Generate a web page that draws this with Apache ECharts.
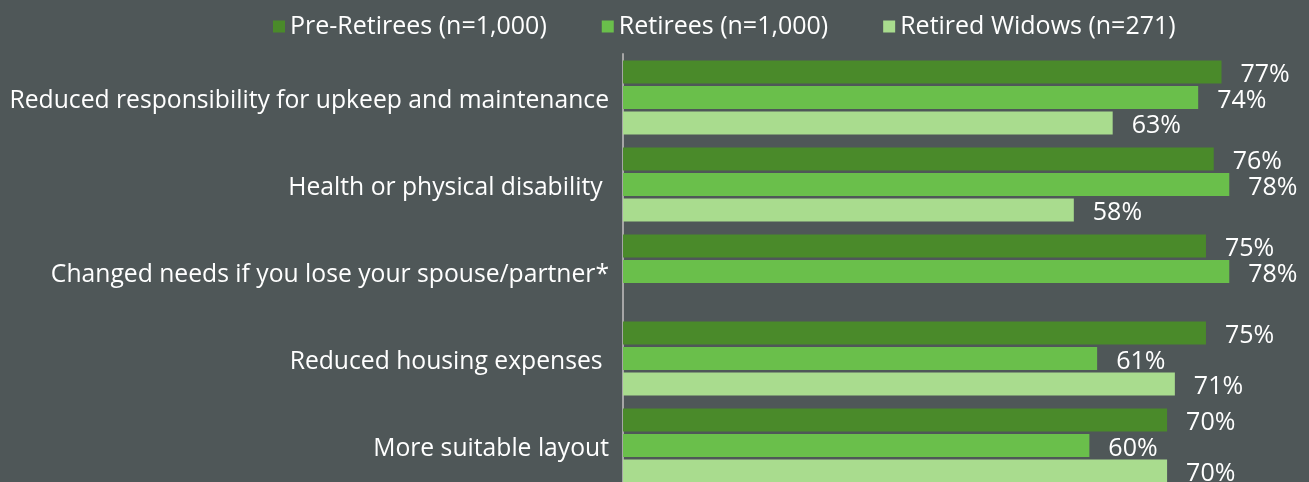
<!DOCTYPE html>
<html>
<head>
<meta charset="utf-8">
<script src="https://cdn.jsdelivr.net/npm/echarts@6/dist/echarts.min.js"></script>
<style>
  html, body { margin: 0; padding: 0; background: #4f5758; }
  #main { width: 1309px; height: 482px; }
</style>
</head>
<body>
<div id="main"></div>
<script>
var categories = [
  'Reduced responsibility for upkeep and maintenance',
  'Health or physical disability ',
  'Changed needs if you lose your spouse/partner*',
  'Reduced housing expenses ',
  'More suitable layout'
];
var seriesNames = ['Pre-Retirees (n=1,000)', 'Retirees (n=1,000)', 'Retired Widows (n=271)'];
var preRetirees = [77, 76, 75, 75, 70];
var retirees = [74, 78, 78, 61, 60];
var retiredWidows = [63, 58, null, 71, 70];
var colors = ['#4a8a2a', '#6abf4b', '#a9dc8e'];

var myChart = echarts.init(document.getElementById('main'));
var font = 'Open Sans';

function makeSeries(name, data, color) {
  return {
    name: name,
    type: 'bar',
    data: data,
    barGap: '11%',
    barCategoryGap: '15%',
    itemStyle: { color: color },
    label: {
      show: true,
      position: 'right',
      distance: 19,
      offset: [0, 3],
      formatter: '{c}%',
      color: '#ffffff',
      fontFamily: font,
      fontSize: 25
    }
  };
}

var option = {
  backgroundColor: '#4f5758',
  animation: false,
  legend: {
    top: 9,
    left: 268,
    itemWidth: 12,
    itemHeight: 12,
    itemGap: 55,
    icon: 'rect',
    textStyle: { color: '#ffffff', fontFamily: font, fontSize: 25 }
  },
  grid: { left: 623, top: 54, width: 684, height: 435, outerBoundsMode: 'none' },
  xAxis: {
    type: 'value',
    min: 0,
    max: 88,
    show: false,
    splitLine: { show: false }
  },
  yAxis: {
    type: 'category',
    inverse: true,
    data: categories,
    axisLine: { show: true, lineStyle: { color: '#a6a6a6', width: 2 } },
    axisTick: { show: false },
    axisLabel: {
      margin: 14,
      formatter: function (v) { return '{a|' + v + '}'; },
      rich: {
        a: {
          color: '#ffffff',
          fontFamily: font,
          fontSize: 24.7,
          padding: [6, 0, 0, 0]
        }
      }
    }
  },
  series: [
    makeSeries(seriesNames[0], preRetirees, colors[0]),
    makeSeries(seriesNames[1], retirees, colors[1]),
    makeSeries(seriesNames[2], retiredWidows, colors[2])
  ]
};
myChart.setOption(option);
</script>
</body>
</html>
